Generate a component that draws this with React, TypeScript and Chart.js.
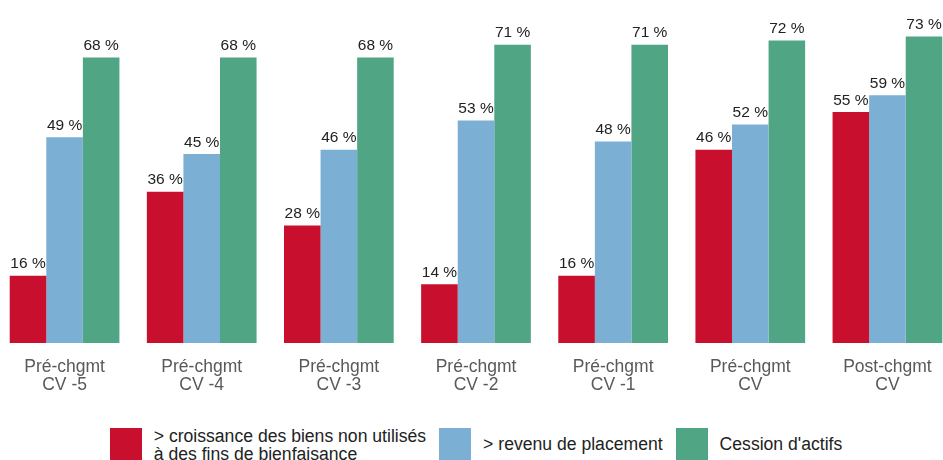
import React, { useEffect, useRef } from "react";
import { Chart, registerables } from "chart.js";

Chart.register(...registerables);

const categories: string[][] = [
  ["Pré-chgmt", "CV -5"],
  ["Pré-chgmt", "CV -4"],
  ["Pré-chgmt", "CV -3"],
  ["Pré-chgmt", "CV -2"],
  ["Pré-chgmt", "CV -1"],
  ["Pré-chgmt", "CV"],
  ["Post-chgmt", "CV"],
];

const seriesNames: string[][] = [
  ["> croissance des biens non utilisés", "à des fins de bienfaisance"],
  ["> revenu de placement"],
  ["Cession d'actifs"],
];

const croissance = [16, 36, 28, 14, 16, 46, 55];
const revenu = [49, 45, 46, 53, 48, 52, 59];
const cession = [68, 68, 68, 71, 71, 72, 73];

const colors = ["#C8102E", "#7BAFD4", "#50A684"];

const labelPlugin = {
  id: "valueLabels",
  afterDatasetsDraw(chart: any) {
    const ctx = chart.ctx;
    ctx.save();
    ctx.font = "15.5px 'Liberation Sans', Arial, sans-serif";
    ctx.fillStyle = "#222";
    ctx.textAlign = "center";
    ctx.textBaseline = "bottom";
    chart.data.datasets.forEach((ds: any, di: number) => {
      const meta = chart.getDatasetMeta(di);
      meta.data.forEach((bar: any, i: number) => {
        ctx.fillText(ds.data[i] + " %", bar.x, bar.y - 4);
      });
    });
    ctx.restore();
  },
};

export default function App() {
  const ref = useRef<HTMLCanvasElement>(null);
  useEffect(() => {
    if (!ref.current) return;
    const chart = new Chart(ref.current, {
      type: "bar",
      data: {
        labels: categories,
        datasets: [croissance, revenu, cession].map((d, i) => ({
          label: seriesNames[i].join(" "),
          data: d,
          backgroundColor: colors[i],
          borderWidth: 0,
          categoryPercentage: 0.8,
          barPercentage: 1,
        })),
      },
      options: {
        animation: false,
        responsive: false,
        maintainAspectRatio: false,
        layout: { padding: { top: 7, left: 0, right: 0, bottom: 0 } },
        plugins: { legend: { display: false }, tooltip: { enabled: false } },
        scales: {
          x: {
            grid: { display: false, drawTicks: false },
            border: { display: false },
            ticks: {
              color: "#595959",
              font: { size: 17.5, family: "'Liberation Sans', Arial, sans-serif", lineHeight: 1.05 },
              padding: 15,
              maxRotation: 0,
              autoSkip: false,
            },
            afterFit: (scale: any) => {
              scale.height = 67;
            },
          },
          y: {
            display: false,
            min: 0,
            max: 80,
          },
        },
      },
      plugins: [labelPlugin],
    });
    return () => chart.destroy();
  }, []);

  const legendFont = "'Liberation Sans', Arial, sans-serif";
  return (
    <div style={{ position: "absolute", left: -4, top: 0, width: 960, height: 460, overflow: "hidden" }}>
      <canvas ref={ref} width={960} height={410} style={{ display: "block" }} />
      <div
        style={{
          position: "absolute",
          top: 428,
          left: 0,
          width: 960,
          height: 32,
          display: "flex",
          justifyContent: "center",
          alignItems: "flex-start",
          fontFamily: legendFont,
          fontSize: 17.6,
          color: "#222",
          lineHeight: "18px",
        }}
      >
        {seriesNames.map((n, i) => (
          <div key={i} style={{ display: "flex", alignItems: "flex-start", marginRight: i < 2 ? 13 : 0 }}>
            <div style={{ width: 32, height: 32, background: colors[i], marginRight: 12, flexShrink: 0 }} />
            <div style={{ marginTop: n.length > 1 ? -1 : 7, whiteSpace: "nowrap" }}>
              {n.map((t, j) => (
                <div key={j}>{t}</div>
              ))}
            </div>
          </div>
        ))}
      </div>
    </div>
  );
}
